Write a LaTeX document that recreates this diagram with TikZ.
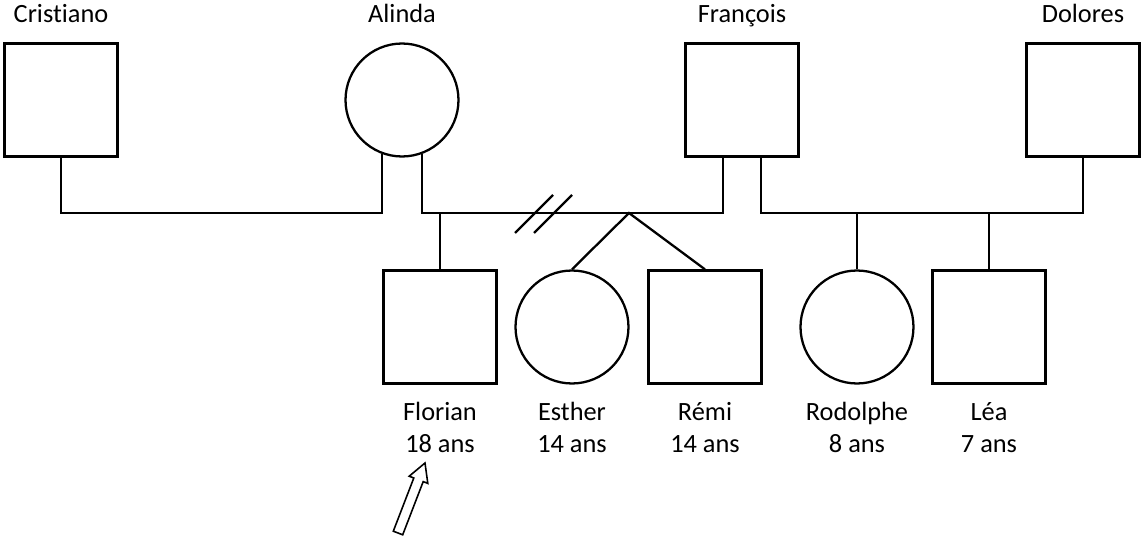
\documentclass[tikz,border=0pt]{standalone}
\usepackage{fontspec}
\setmainfont{Carlito}[Ligatures=NoCommon]
\begin{document}
\begin{tikzpicture}[x=0.02cm,y=-0.02cm,line width=1.3pt,
  male/.style={draw,rectangle,minimum size=2.26cm,inner sep=0pt},
  female/.style={draw,circle,minimum size=2.26cm,inner sep=0pt},
  pname/.style={anchor=base,inner sep=0pt,font=\fontsize{15}{18.5}\selectfont}]
\useasboundingbox (0,0) rectangle (1144,540);
% parents
\node[male] (cristiano) at (61,100) {};
\node[female] (alinda) at (402,100) {};
\node[male] (francois) at (742,100) {};
\node[male] (dolores) at (1083,100) {};
\foreach \p/\x/\t in {cristiano/61/Cristiano, alinda/402/Alinda, francois/742/François, dolores/1083/Dolores}
   \node[pname] (\p-name) at (\x,23) {\t};
% children
\node[male] (florian) at (440,327) {};
\node[female] (esther) at (572,327) {};
\node[male] (remi) at (705,327) {};
\node[female] (rodolphe) at (857,327) {};
\node[male] (lea) at (989,327) {};
\foreach \c/\x/\t/\a in {florian/440/Florian/18, esther/572/Esther/14, remi/705/Rémi/14, rodolphe/857/Rodolphe/8, lea/989/Léa/7}
{
   \node[pname] (\c-name) at (\x,421) {\t};
   \node[pname] (\c-age) at (\x,453) {\a{} ans};
}
% lines
\coordinate (bar) at (0,213);
\coordinate (twin) at (629,213);
\draw (cristiano.south) |- (alinda.250 |- bar) -- (alinda.250);
\draw (alinda.290) -- (alinda.290 |- bar) -| ([xshift=-0.38cm]francois.south);
\draw ([xshift=0.38cm]francois.south) |- (dolores.south |- bar) -- (dolores.south);
\draw (florian.north) -- (florian.north |- bar);
\draw (esther.north) -- (twin) -- (remi.north);
\foreach \c in {rodolphe,lea}
   \draw (\c.north) -- (\c.north |- bar);
\foreach \d in {0,19}
   \draw (515+\d,233) -- (553+\d,195);
% proband
\draw[line width=0.9pt] (393.3,531.2) -- (413.8,478) -- (409.2,476.2) -- (425,463)
   -- (427.8,483.4) -- (423.2,481.6) -- (402.7,534.8) -- cycle;
\end{tikzpicture}
\end{document}
